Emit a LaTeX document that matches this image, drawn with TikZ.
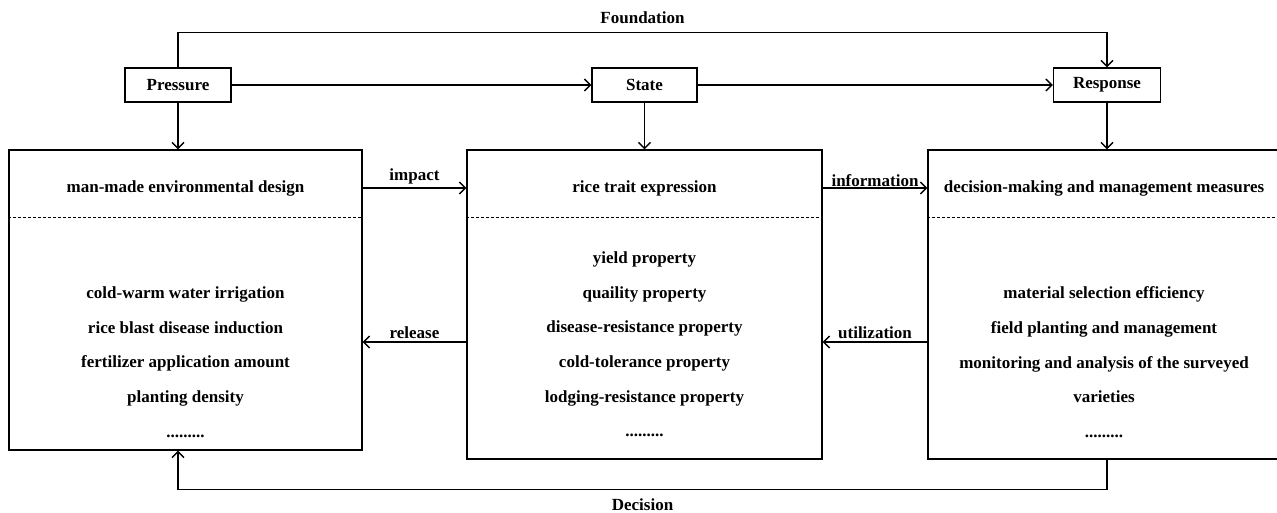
\documentclass[tikz,border=0pt]{standalone}
\usepackage{fontspec}
\setmainfont{Liberation Serif}
\usetikzlibrary{positioning,calc,arrows.meta}

\begin{document}
\begin{tikzpicture}[x=1pt,y=-1pt,
    every node/.style={font=\fontsize{17}{34.7}\selectfont\bfseries},
    box/.style={draw,line width=1.4pt,inner sep=0pt},
    arr/.style={line width=1.4pt,-{Straight Barb[length=6pt,width=12pt]}}
  ]
  \useasboundingbox (0,0) rectangle (1277,513);

  \node[box,minimum width=106pt,minimum height=34pt] at (178,85)     (pressure) {Pressure};
  \node[box,minimum width=105pt,minimum height=34pt] at (644.5,85)   (state)    {State};
  \node[box,minimum width=107pt,minimum height=34pt] at (1107,85)    (response) {Response};

  \node[box,minimum width=353pt,minimum height=300pt] at (185.5,300)  (env-box)     {};
  \node[box,minimum width=355pt,minimum height=309pt] at (644.5,304.5) (trait-box)   {};
  \node[box,minimum width=362pt,minimum height=309pt] at (1109,304.5)  (measure-box) {};

  \node at (185.5,188) (env-title)     {man-made environmental design};
  \node at (644.5,188) (trait-title)   {rice trait expression};
  \node at (1104,188)  (measure-title) {decision-making and management measures};

  \draw[line width=1pt,dash pattern=on 3pt off 2pt] ($(env-box.north west)+(0,68)$) -- ($(env-box.north east)+(0,68)$);
  \draw[line width=1pt,dash pattern=on 3pt off 2pt] ($(trait-box.north west)+(0,68)$) -- ($(trait-box.north east)+(0,68)$);
  \draw[line width=1pt,dash pattern=on 3pt off 2pt] ($(measure-box.north west)+(0,68)$) -- ($(measure-box.north east)+(0,68)$);

  \node[align=center,anchor=north,inner sep=0pt] at (185.5,286.5) (env-items)
    {cold-warm water irrigation\\rice blast disease induction\\fertilizer application amount\\planting density\\.........};
  \node[align=center,anchor=north,inner sep=0pt] at (644.5,251.5) (trait-items)
    {yield property\\quaility property\\disease-resistance property\\cold-tolerance property\\lodging-resistance property\\.........};
  \node[align=center,anchor=north,inner sep=0pt] at (1104,286.5) (measure-items)
    {material selection efficiency\\field planting and management\\monitoring and analysis of the surveyed\\varieties\\.........};

  \draw[arr] (pressure) -- (state);
  \draw[arr] (state) -- (response);
  \draw[arr] (pressure) -- (pressure |- env-box.north);
  \draw[arr] (state) -- (trait-box);
  \draw[arr] (response) -- (response |- measure-box.north);

  \draw[arr] (env-box.east |- env-title) -- node[above,inner sep=3pt] {impact} (trait-box.west |- env-title);
  \draw[arr] (trait-box.east |- env-title) -- node[above,inner sep=1pt] {information} (measure-box.west |- env-title);

  \coordinate (low) at (0,342);
  \draw[arr] (trait-box.west |- low) -- node[above,inner sep=3pt] {release} (env-box.east |- low);
  \draw[arr] (measure-box.west |- low) -- node[above,inner sep=3pt] {utilization} (trait-box.east |- low);

  \draw[arr] (pressure.north) -- ++(0,-35) -| node[pos=0.25,above,inner sep=8pt] {Foundation} (response.north);
  \draw[arr] (response |- measure-box.south) -- ++(0,30) -| node[pos=0.25,below,inner sep=8pt] {Decision} (pressure |- env-box.south);
\end{tikzpicture}
\end{document}
